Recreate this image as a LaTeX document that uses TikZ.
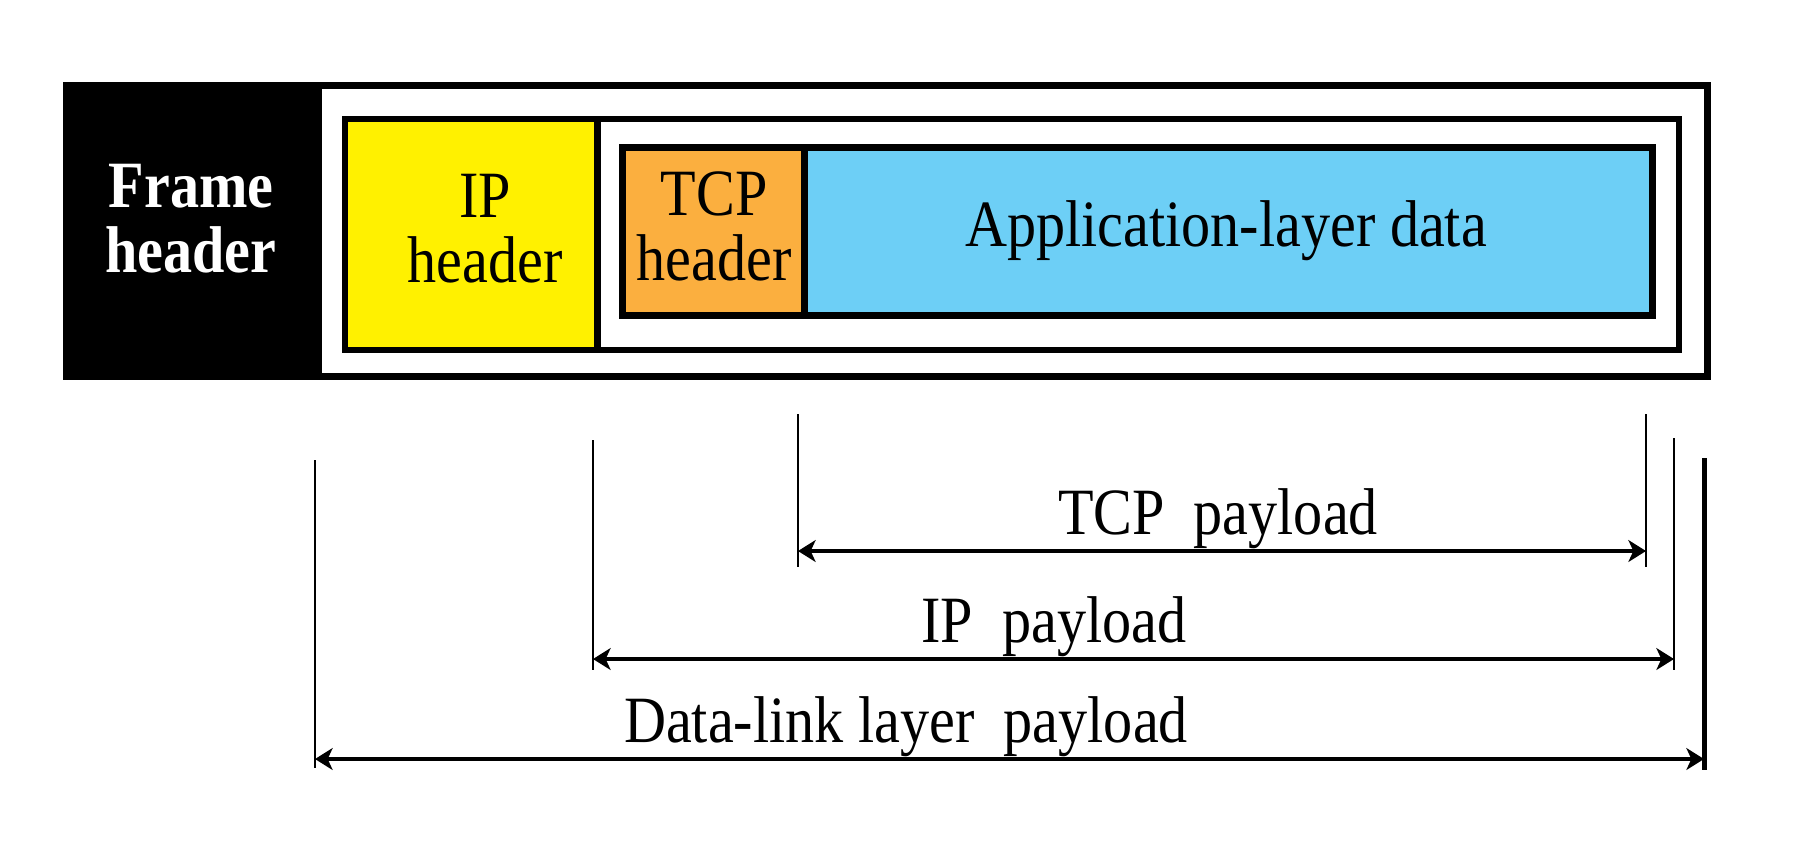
\documentclass[tikz,border=0pt]{standalone}
\usepackage{fontspec}
\setmainfont{Liberation Serif}[FakeStretch=0.88]
\usetikzlibrary{arrows.meta}

\definecolor{ipyellow}{HTML}{FFF100}
\definecolor{tcporange}{HTML}{FBAF3F}
\definecolor{appblue}{HTML}{6DCFF6}
\newcommand{\lblfont}{\fontsize{18.8}{18.5}\selectfont}

\tikzset{
  lbl/.style={font=\lblfont, inner sep=0pt, align=center},
  extline/.style={line width=0.57pt},
  dimarrow/.style={line width=1.3pt, {Stealth[length=5pt,width=6.2pt,inset=1.4pt]}-{Stealth[length=5pt,width=6.2pt,inset=1.4pt]}}
}

\begin{document}
\begin{tikzpicture}[x=0.01cm,y=-0.01cm]
  \useasboundingbox (0,0) rectangle (1793,859);

  \fill (63,82) rectangle (322,380);
  \draw[line width=2pt] (66.5,85.5) rectangle (1707.5,376.5);

  \fill[ipyellow] (345,119) rectangle (597.5,350);
  \draw[line width=1.7pt] (345,119) rectangle (1679,350);
  \draw[line width=2pt] (597.5,119) -- (597.5,350);

  \fill[tcporange] (622.5,147.5) rectangle (804.5,315.5);
  \fill[appblue] (804.5,147.5) rectangle (1652.5,315.5);
  \draw[line width=2pt] (622.5,147.5) rectangle (1652.5,315.5);
  \draw[line width=2pt] (804.5,147.5) -- (804.5,315.5);

  \node[lbl, text=white, font=\lblfont\bfseries] (frame) at (191,218.5) {Frame\\header};
  \node[lbl] (iphdr) at (485,228.5) {IP\\header};
  \node[lbl] (tcphdr) at (714,226) {TCP\\header};
  \node[lbl, anchor=base] (app) at (1226,246) {Application-layer data};

  \draw[extline] (315,460) -- (315,768);
  \draw[extline] (593,440) -- (593,670);
  \draw[extline] (798,414) -- (798,567);
  \draw[extline] (1646,414) -- (1646,567);
  \draw[extline] (1674,438) -- (1674,670);
  \draw[line width=1.42pt] (1704,458) -- (1704,770);

  \coordinate (tcpL) at (798,551);
  \coordinate (tcpR) at (1646,551);
  \coordinate (ipL) at (593,659);
  \coordinate (ipR) at (1674,659);
  \coordinate (dlL) at (315,759);
  \coordinate (dlR) at (1704,759);

  \draw[dimarrow] (tcpL) -- (tcpR);
  \draw[dimarrow] (ipL) -- (ipR);
  \draw[dimarrow] (dlL) -- (dlR);

  \node[lbl, anchor=base] (tcppay) at (1218,534) {TCP\ \ payload};
  \node[lbl, anchor=base] (ippay) at (1054,642) {IP\ \ payload};
  \node[lbl, anchor=base] (dlpay) at (906,742) {Data-link layer\ \ payload};
\end{tikzpicture}
\end{document}
